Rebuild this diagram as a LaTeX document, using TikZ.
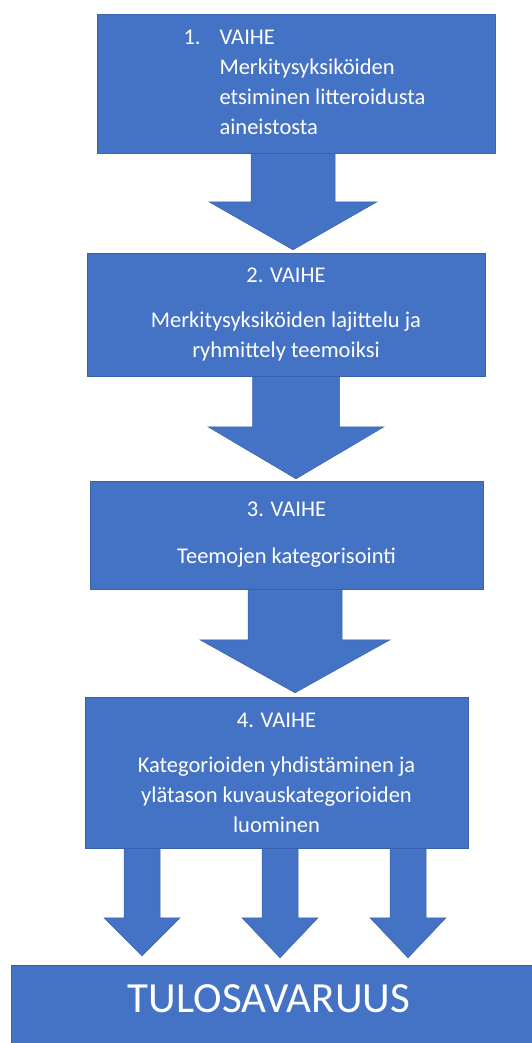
\documentclass[tikz,border=0pt]{standalone}
\usepackage{fontspec}
\setmainfont{Carlito}
\usetikzlibrary{calc}
\definecolor{boxblue}{HTML}{4472C4}
\definecolor{boxline}{HTML}{3A62AC}
\tikzset{
  stage/.style={draw=boxline, line width=0.6pt, fill=boxblue, text=white, inner sep=0pt,
    font=\fontsize{22.5}{30}\selectfont},
  barrowstyle/.style={fill=boxblue, draw=boxline, line width=0.5pt, line join=miter},
  restext/.style={text=white, inner sep=0pt, font=\fontsize{43}{50}\selectfont},
}
\newcommand\blockarr[5]{%
  \draw[barrowstyle] let \p1=(#1), \p2=(#2) in
    (\x1-#3pt,\y1) -- (\x1+#3pt,\y1) -- (\x1+#3pt,\y2+#5pt) -- (\x1+#4pt,\y2+#5pt)
    -- (\x1,\y2) -- (\x1-#4pt,\y2+#5pt) -- (\x1-#3pt,\y2+#5pt) -- cycle;}
\begin{document}
\begin{tikzpicture}[x=1pt,y=-1pt]
\useasboundingbox (0,0) rectangle (531,1043);
% box placeholders (the filled boxes are drawn later, on top of the arrows)
\path (296,83.5) node[minimum width=398pt, minimum height=139pt, inner sep=0pt] (b1p) {};
\path (286,314.5) node[minimum width=398pt, minimum height=123pt, inner sep=0pt] (b2p) {};
\path (286.5,535) node[minimum width=393pt, minimum height=108pt, inner sep=0pt] (b3p) {};
\path (276.5,772.5) node[minimum width=383pt, minimum height=151pt, inner sep=0pt] (b4p) {};
\path (278,1012) node[minimum width=534pt, minimum height=94pt, inner sep=0pt] (resp) {};
% arrow end points
\coordinate (a1s) at ($(b1p.south)+(-3,0)$);
\coordinate (a1e) at ($(b2p.north)+(7,-3)$);
\coordinate (a2s) at ($(b2p.south)+(10,0)$);
\coordinate (a2e) at ($(b3p.north)+(9.5,-2)$);
\coordinate (a3s) at ($(b3p.south)+(8.5,-2)$);
\coordinate (a3e) at ($(b4p.north)+(18.5,-4)$);
\coordinate (a4s) at ($(b4p.south)+(-134.5,0)$);
\coordinate (a4e) at ($(resp.north)+(-136,-9)$);
\coordinate (a5s) at ($(b4p.south)+(3.5,0)$);
\coordinate (a5e) at ($(resp.north)+(2,-7)$);
\coordinate (a6s) at ($(b4p.south)+(131.5,0)$);
\coordinate (a6e) at ($(resp.north)+(130,-7)$);
\blockarr{a1s}{a1e}{42}{84}{48}
\blockarr{a2s}{a2e}{43.5}{88}{52}
\blockarr{a3s}{a3e}{47}{95}{53}
\blockarr{a4s}{a4e}{18}{38}{38}
\blockarr{a5s}{a5e}{18}{38}{40}
\blockarr{a6s}{a6e}{18}{38}{40}
% boxes
\node[stage, minimum width=398pt, minimum height=139pt] (b1) at (b1p)
  {\hspace*{17pt}\begin{tabular}{@{}l@{}}\makebox[36pt][l]{1.}VAIHE\\
   \hspace*{36pt}Merkitysyksiköiden\\
   \hspace*{36pt}etsiminen litteroidusta\\
   \hspace*{36pt}aineistosta\end{tabular}};
\node[stage, align=center, minimum width=398pt, minimum height=123pt] (b2) at (b2p)
  {2. VAIHE\\[15pt]Merkitysyksiköiden lajittelu ja\\ryhmittely teemoiksi};
\node[stage, align=center, minimum width=393pt, minimum height=108pt] (b3) at (b3p)
  {3. VAIHE\\[17pt]Teemojen kategorisointi};
\node[stage, align=center, minimum width=383pt, minimum height=151pt] (b4) at (b4p)
  {4. VAIHE\\[15pt]Kategorioiden yhdistäminen ja\\ylätason kuvauskategorioiden\\luominen};
\node[stage, minimum width=534pt, minimum height=94pt] (res) at (resp) {};
\node[restext] (restxt) at (269,999) {TULOSAVARUUS};
\end{tikzpicture}
\end{document}
